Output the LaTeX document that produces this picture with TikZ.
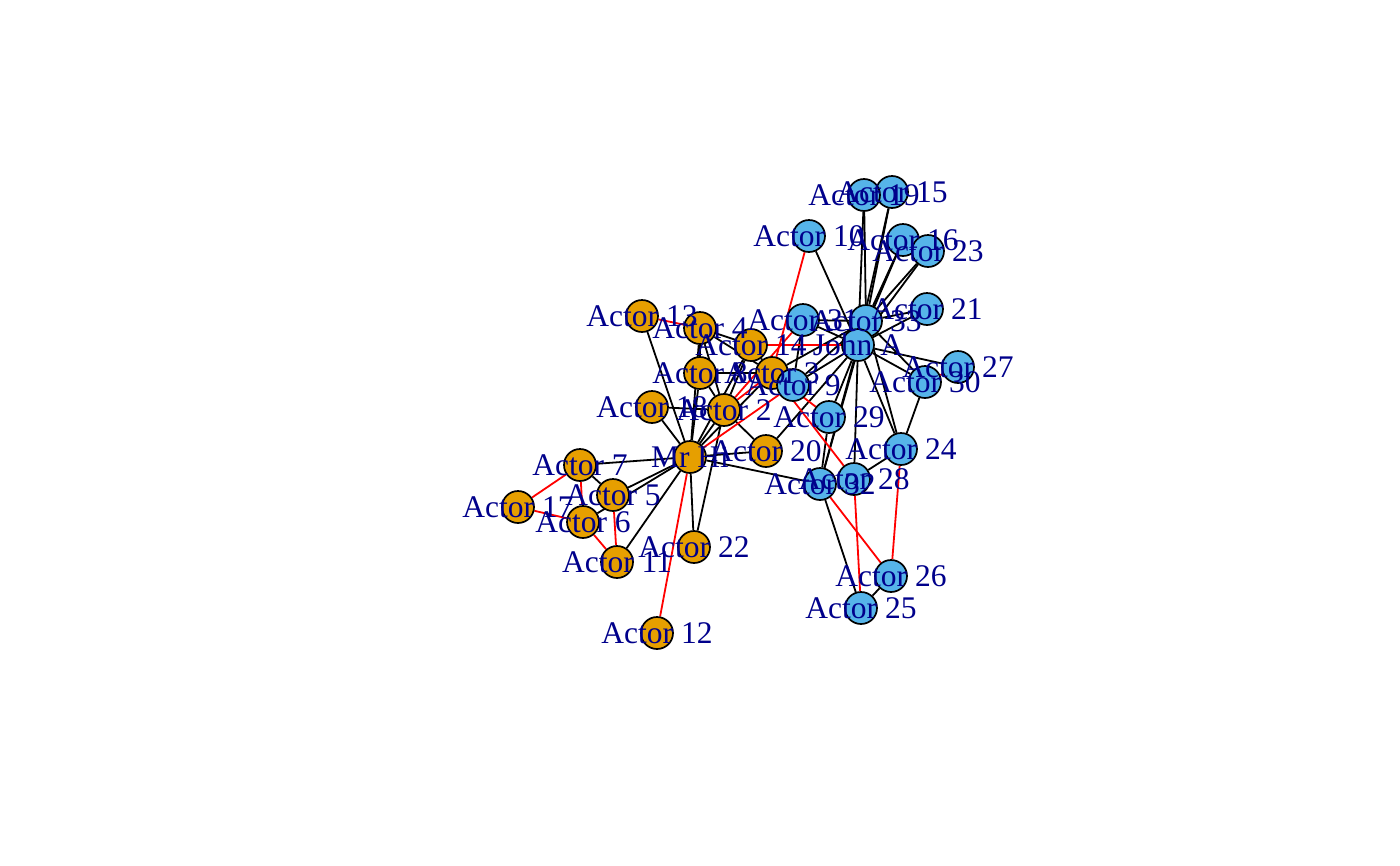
\documentclass[tikz,border=0pt]{standalone}
\usepackage{fontspec}
\setmainfont{Liberation Serif}
\usetikzlibrary{backgrounds}
\definecolor{vorange}{HTML}{E69F00}
\definecolor{vblue}{HTML}{56B4E9}
\definecolor{labblue}{HTML}{00008B}
\tikzset{
  vtx/.style={circle,draw=black,line width=1.7pt,minimum size=32pt,inner sep=0pt},
  vo/.style={vtx,fill=vorange},
  vb/.style={vtx,fill=vblue},
  lab/.style={text=labblue,inner sep=0pt,font=\fontsize{31.5}{32}\selectfont},
  eb/.style={draw=black,line width=1.8pt},
  er/.style={draw=red,line width=1.8pt}
}
\begin{document}
\begin{tikzpicture}[x=1pt,y=-1pt]
\useasboundingbox (0,0) rectangle (1400,865);
\node[vo] (v1) at (690,457) {};
\node[vo] (v2) at (724,410) {};
\node[vo] (v3) at (772,373) {};
\node[vo] (v4) at (700,328) {};
\node[vo] (v5) at (613,495) {};
\node[vo] (v6) at (583,522) {};
\node[vo] (v7) at (580,465) {};
\node[vo] (v8) at (700,373) {};
\node[vb] (v9) at (793,385) {};
\node[vb] (v10) at (809,236) {};
\node[vo] (v11) at (617,562) {};
\node[vo] (v12) at (657,633) {};
\node[vo] (v13) at (642,316) {};
\node[vo] (v14) at (751,345) {};
\node[vb] (v15) at (892,192) {};
\node[vb] (v16) at (903,240) {};
\node[vo] (v17) at (518,507) {};
\node[vo] (v18) at (652,407) {};
\node[vb] (v19) at (864,195) {};
\node[vo] (v20) at (766,451) {};
\node[vb] (v21) at (927,309) {};
\node[vo] (v22) at (694,547) {};
\node[vb] (v23) at (928,251) {};
\node[vb] (v24) at (901,449) {};
\node[vb] (v25) at (861,608) {};
\node[vb] (v26) at (891,576) {};
\node[vb] (v27) at (958,367) {};
\node[vb] (v28) at (854,479) {};
\node[vb] (v29) at (829,417) {};
\node[vb] (v30) at (925,382) {};
\node[vb] (v31) at (803,320) {};
\node[vb] (v32) at (820,484) {};
\node[vb] (v33) at (866,321) {};
\node[vb] (v34) at (858,345) {};
\begin{scope}[on background layer]
\fill[white] (0,0) rectangle (1400,865);
\foreach \a/\b in {1/2,1/3,1/4,1/5,1/6,1/7,1/8,1/11,1/13,1/14,1/18,1/20,1/22,1/32,
  2/4,2/8,2/14,2/18,2/20,2/22,3/4,3/8,3/9,3/14,3/33,4/8,4/14,5/7,
  9/31,9/33,9/34,10/34,15/33,15/34,16/33,16/34,19/33,19/34,20/34,21/33,21/34,
  23/33,23/34,24/28,24/30,24/33,24/34,25/26,25/32,27/34,28/34,29/32,29/34,
  30/33,30/34,31/33,31/34,32/33,32/34,33/34}
  \draw[eb] (v\a) -- (v\b);
\foreach \a/\b in {1/9,1/12,2/3,2/31,3/10,3/28,3/29,4/13,5/11,6/7,6/11,6/17,7/17,
  14/34,24/26,25/28,26/32,27/30}
  \draw[er] (v\a) -- (v\b);
\end{scope}
\node[lab] at (v1) {Mr Hi};
\node[lab] at (v2) {Actor 2};
\node[lab] at (v3) {Actor 3};
\node[lab] at (v4) {Actor 4};
\node[lab] at (v5) {Actor 5};
\node[lab] at (v6) {Actor 6};
\node[lab] at (v7) {Actor 7};
\node[lab] at (v8) {Actor 8};
\node[lab] at (v9) {Actor 9};
\node[lab] at (v10) {Actor 10};
\node[lab] at (v11) {Actor 11};
\node[lab] at (v12) {Actor 12};
\node[lab] at (v13) {Actor 13};
\node[lab] at (v14) {Actor 14};
\node[lab] at (v15) {Actor 15};
\node[lab] at (v16) {Actor 16};
\node[lab] at (v17) {Actor 17};
\node[lab] at (v18) {Actor 18};
\node[lab] at (v19) {Actor 19};
\node[lab] at (v20) {Actor 20};
\node[lab] at (v21) {Actor 21};
\node[lab] at (v22) {Actor 22};
\node[lab] at (v23) {Actor 23};
\node[lab] at (v24) {Actor 24};
\node[lab] at (v25) {Actor 25};
\node[lab] at (v26) {Actor 26};
\node[lab] at (v27) {Actor 27};
\node[lab] at (v28) {Actor 28};
\node[lab] at (v29) {Actor 29};
\node[lab] at (v30) {Actor 30};
\node[lab] at (v31) {Actor 31};
\node[lab] at (v32) {Actor 32};
\node[lab] at (v33) {Actor 33};
\node[lab] at (v34) {John A};
\end{tikzpicture}
\end{document}
